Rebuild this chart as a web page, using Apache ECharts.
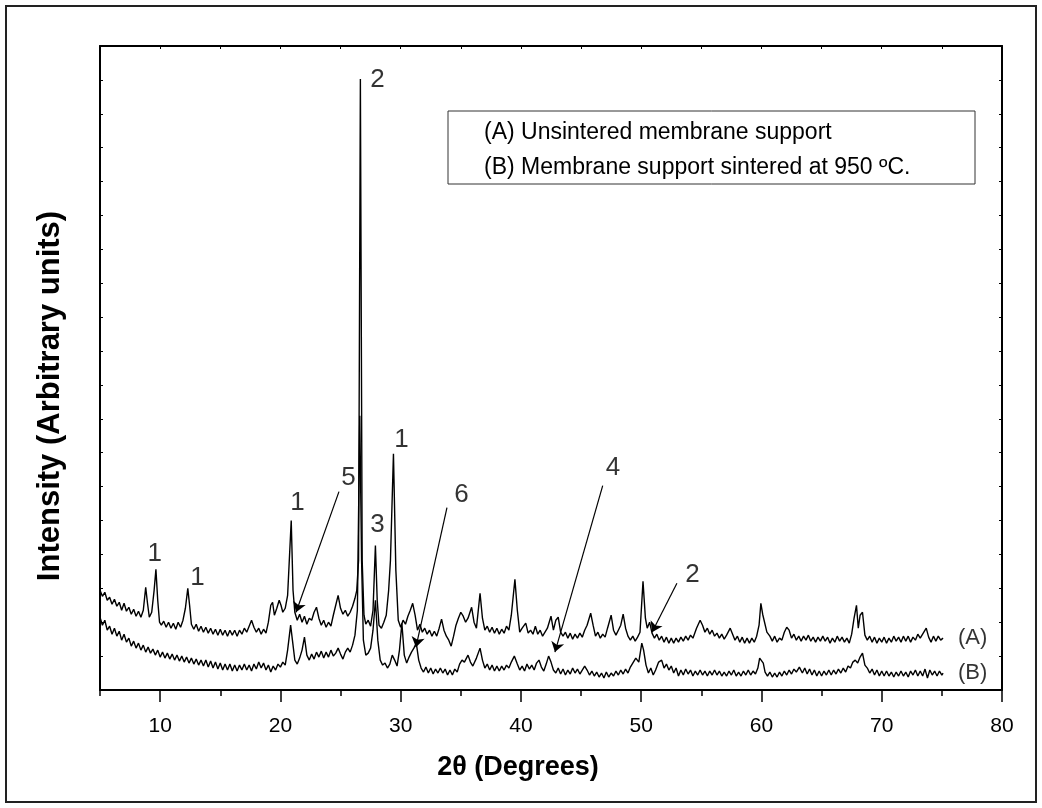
<!DOCTYPE html>
<html>
<head>
<meta charset="utf-8">
<script src="https://cdn.jsdelivr.net/npm/echarts@6/dist/echarts.min.js"></script>
<style>
html,body{margin:0;padding:0;background:#fff;}
#chart{width:1042px;height:808px;}
</style>
</head>
<body>
<div id="chart"></div>
<script>
// 2theta (degrees), intensity (arbitrary units) — trace (A) unsintered
const seriesA = [
[5.0,100],[5.2,94],[5.4,98],[5.6,90],[5.8,93],[6.0,86],[6.2,91],[6.4,84],[6.6,88],[6.8,80],[7.0,87],[7.2,79],[7.4,83],[7.6,76],[7.8,81],[8.0,74],[8.2,79],[8.4,73],[8.6,80],[8.8,103],[8.95,87],[9.1,73],[9.3,78],[9.5,100],[9.65,121],[9.8,90],[9.95,68],
[10.1,65],[10.3,69],[10.5,63],[10.7,68],[10.9,62],[11.1,67],[11.3,61],[11.5,68],[11.7,63],[11.9,70],[12.1,82],[12.3,102],[12.45,85],[12.6,66],[12.8,61],[13.0,66],[13.2,59],[13.4,64],[13.6,58],[13.8,63],[14.0,57],[14.2,62],[14.4,56],[14.6,61],[14.8,55],
[15.0,61],[15.2,55],[15.4,60],[15.6,54],[15.8,60],[16.0,55],[16.2,60],[16.4,54],[16.6,60],[16.8,56],[17.0,62],[17.2,58],[17.4,64],[17.6,70],[17.8,63],[18.0,58],[18.2,62],[18.4,56],[18.6,61],[18.8,57],[19.0,68],[19.2,85],[19.35,88],[19.5,75],[19.7,82],[19.9,90],
[20.05,85],[20.2,78],[20.4,82],[20.6,95],[20.9,170],[21.05,100],[21.2,78],[21.4,70],[21.6,76],[21.8,68],[22.0,74],[22.2,66],[22.4,72],[22.6,70],[22.8,78],[23.0,83],[23.2,72],[23.4,65],[23.6,70],[23.8,63],[24.0,68],[24.2,64],[24.4,75],[24.6,85],[24.8,95],
[25.0,82],[25.2,76],[25.4,80],[25.6,74],[25.8,78],[26.0,84],[26.2,92],[26.35,100],[26.5,130],[26.65,613],[26.8,130],[26.95,75],[27.1,66],[27.3,70],[27.5,64],[27.7,80],[27.9,145],[28.05,90],[28.2,65],[28.4,62],[28.6,68],[28.8,75],[29.0,100],[29.15,130],[29.4,237],[29.6,120],[29.8,70],
[30.0,63],[30.2,70],[30.4,66],[30.6,74],[30.8,80],[31.0,87],[31.2,75],[31.4,60],[31.6,66],[31.8,58],[32.0,62],[32.2,56],[32.4,60],[32.6,54],[32.8,59],[33.0,54],[33.2,62],[33.4,71],[33.6,60],[33.8,54],[34.0,50],[34.2,44],[34.4,54],[34.6,65],[34.8,72],
[35.0,78],[35.2,74],[35.4,68],[35.6,72],[35.9,83],[36.1,68],[36.3,62],[36.6,97],[36.8,72],[37.0,60],[37.2,64],[37.4,58],[37.6,63],[37.8,57],[38.0,62],[38.2,56],[38.4,61],[38.6,57],[38.8,64],[39.0,60],[39.2,75],[39.5,111],[39.7,80],[39.9,58],
[40.1,62],[40.4,67],[40.6,57],[40.8,60],[41.0,56],[41.2,64],[41.4,56],[41.6,60],[41.8,54],[42.0,58],[42.2,62],[42.5,74],[42.7,60],[42.9,70],[43.1,73],[43.3,58],[43.5,54],[43.7,58],[43.9,52],[44.1,57],[44.3,51],[44.5,56],[44.7,52],[44.9,57],
[45.1,53],[45.3,60],[45.5,65],[45.8,77],[46.0,65],[46.2,54],[46.4,58],[46.6,52],[46.8,56],[47.0,53],[47.2,62],[47.5,75],[47.7,60],[47.9,55],[48.1,60],[48.3,65],[48.5,76],[48.7,62],[48.9,54],[49.1,50],[49.3,54],[49.5,49],[49.7,53],[49.9,58],
[50.15,109],[50.35,72],[50.5,62],[50.7,68],[50.9,57],[51.1,52],[51.3,56],[51.5,50],[51.7,54],[51.9,48],[52.1,53],[52.3,47],[52.5,52],[52.7,47],[52.9,52],[53.1,48],[53.3,53],[53.5,49],[53.7,54],[53.9,50],[54.1,55],[54.3,52],[54.6,62],[54.9,70],
[55.1,65],[55.3,58],[55.5,62],[55.7,56],[55.9,60],[56.1,54],[56.3,57],[56.5,52],[56.7,56],[56.9,51],[57.1,55],[57.4,62],[57.6,56],[57.8,50],[58.0,54],[58.2,48],[58.4,53],[58.6,47],[58.8,52],[59.0,47],[59.2,52],[59.4,48],[59.6,54],[59.8,65],[59.95,87],
[60.1,76],[60.25,78],[60.45,58],[60.7,54],[60.9,49],[61.1,54],[61.3,48],[61.5,52],[61.7,50],[61.9,58],[62.1,63],[62.3,60],[62.5,52],[62.7,56],[62.9,50],[63.1,54],[63.3,49],[63.5,54],[63.7,50],[63.9,55],[64.1,49],[64.3,53],[64.5,48],[64.7,53],[64.9,49],
[65.1,54],[65.3,49],[65.5,53],[65.7,47],[65.9,52],[66.1,48],[66.3,54],[66.5,49],[66.7,53],[66.9,48],[67.1,52],[67.3,47],[67.5,56],[67.7,72],[67.9,85],[68.05,62],[68.2,75],[68.4,78],[68.6,55],[68.8,50],[69.0,54],[69.2,48],[69.4,53],[69.6,47],[69.8,52],
[70.0,48],[70.2,53],[70.4,47],[70.6,52],[70.8,48],[71.0,54],[71.2,49],[71.4,53],[71.6,48],[71.8,54],[72.0,49],[72.2,54],[72.4,48],[72.6,53],[72.8,50],[73.0,56],[73.2,52],[73.5,58],[73.7,62],[73.9,53],[74.1,48],[74.3,54],[74.5,49],[74.7,54],[74.9,50],[75.1,52]
];
// trace (B) sintered at 950 ºC
const seriesB = [
[5.0,73],[5.2,65],[5.4,70],[5.6,60],[5.8,64],[6.0,56],[6.2,62],[6.4,54],[6.6,59],[6.8,50],[7.0,56],[7.2,48],[7.4,52],[7.6,44],[7.8,49],[8.0,42],[8.2,47],[8.4,40],[8.6,45],[8.8,38],[9.0,43],[9.2,37],[9.4,41],[9.6,35],[9.8,40],
[10.0,33],[10.2,38],[10.4,32],[10.6,37],[10.8,31],[11.0,36],[11.2,30],[11.4,35],[11.6,29],[11.8,34],[12.0,28],[12.2,33],[12.4,27],[12.6,32],[12.8,26],[13.0,31],[13.2,25],[13.4,30],[13.6,24],[13.8,30],[14.0,23],[14.2,29],[14.4,22],[14.6,28],[14.8,21],
[15.0,27],[15.2,20],[15.4,26],[15.6,20],[15.8,26],[16.0,19],[16.2,25],[16.4,19],[16.6,25],[16.8,20],[17.0,26],[17.2,20],[17.4,25],[17.6,19],[17.8,26],[18.0,21],[18.2,28],[18.4,22],[18.6,27],[18.8,20],[19.0,25],[19.2,18],[19.4,24],[19.6,20],[19.8,26],
[20.0,23],[20.2,28],[20.4,25],[20.6,40],[20.85,65],[21.0,50],[21.2,30],[21.4,26],[21.6,32],[21.8,40],[22.0,53],[22.2,35],[22.4,30],[22.6,36],[22.8,31],[23.0,38],[23.2,33],[23.4,39],[23.6,32],[23.8,38],[24.0,33],[24.2,40],[24.4,34],[24.6,37],[24.8,42],
[25.0,36],[25.2,31],[25.4,38],[25.6,42],[25.8,38],[26.0,45],[26.2,55],[26.4,80],[26.6,275],[26.75,130],[26.9,50],[27.1,35],[27.3,37],[27.5,42],[27.7,60],[27.9,90],[28.1,50],[28.3,30],[28.5,25],[28.7,27],[28.9,22],[29.1,26],[29.3,35],[29.5,30],[29.7,24],[29.9,40],
[30.1,67],[30.3,35],[30.5,27],[30.7,33],[30.9,38],[31.1,42],[31.3,47],[31.5,30],[31.7,22],[31.9,18],[32.1,23],[32.3,17],[32.5,22],[32.7,16],[32.9,21],[33.1,17],[33.3,22],[33.5,17],[33.7,21],[33.9,15],[34.1,20],[34.3,15],[34.5,21],[34.7,18],[34.9,26],
[35.1,30],[35.3,28],[35.6,35],[35.8,28],[36.0,24],[36.3,32],[36.6,42],[36.8,30],[37.0,22],[37.2,26],[37.4,20],[37.6,25],[37.8,19],[38.0,24],[38.2,19],[38.4,24],[38.6,20],[38.8,25],[39.0,22],[39.2,28],[39.45,34],[39.7,26],[39.9,20],
[40.1,24],[40.3,19],[40.5,26],[40.7,21],[40.9,25],[41.1,20],[41.3,27],[41.5,30],[41.7,23],[41.9,19],[42.1,26],[42.3,34],[42.5,28],[42.7,20],[42.9,17],[43.1,22],[43.3,16],[43.5,21],[43.7,15],[43.9,20],[44.1,16],[44.3,22],[44.5,17],[44.7,21],[44.9,16],
[45.1,20],[45.3,24],[45.5,20],[45.7,15],[45.9,19],[46.1,14],[46.3,18],[46.5,13],[46.7,17],[46.9,12],[47.1,18],[47.3,13],[47.5,17],[47.7,14],[47.9,19],[48.1,15],[48.3,20],[48.5,16],[48.7,21],[48.9,17],[49.1,23],[49.3,27],[49.55,32],[49.8,28],
[50.05,47],[50.2,40],[50.4,25],[50.6,17],[50.8,22],[51.0,15],[51.2,20],[51.45,28],[51.7,30],[51.9,22],[52.1,26],[52.3,20],[52.5,24],[52.7,17],[52.9,22],[53.1,14],[53.3,20],[53.5,15],[53.7,21],[53.9,16],[54.1,20],[54.3,14],[54.5,19],[54.7,15],[54.9,20],
[55.1,15],[55.3,19],[55.5,14],[55.7,19],[55.9,15],[56.1,20],[56.3,15],[56.5,19],[56.7,14],[56.9,18],[57.1,14],[57.3,19],[57.5,15],[57.7,20],[57.9,14],[58.1,18],[58.3,14],[58.5,19],[58.7,15],[58.9,20],[59.1,15],[59.3,19],[59.5,16],[59.7,22],[59.85,32],
[60.0,30],[60.15,27],[60.3,18],[60.5,14],[60.7,18],[60.9,13],[61.1,17],[61.3,13],[61.5,18],[61.7,14],[61.9,19],[62.1,15],[62.3,20],[62.5,16],[62.7,21],[62.9,18],[63.15,23],[63.4,17],[63.6,22],[63.8,16],[64.0,21],[64.2,15],[64.4,20],[64.6,14],[64.8,19],
[65.0,14],[65.2,19],[65.4,15],[65.6,20],[65.8,15],[66.0,20],[66.2,16],[66.4,21],[66.6,17],[66.8,22],[67.0,18],[67.2,24],[67.4,22],[67.6,28],[67.8,30],[68.0,27],[68.2,33],[68.4,37],[68.6,25],[68.8,22],[69.0,17],[69.2,21],[69.4,15],[69.6,20],[69.8,14],
[70.0,19],[70.2,14],[70.4,19],[70.6,14],[70.8,18],[71.0,13],[71.2,18],[71.4,14],[71.6,19],[71.8,14],[72.0,18],[72.2,13],[72.4,19],[72.6,15],[72.8,20],[73.0,14],[73.2,19],[73.4,14],[73.6,21],[73.8,12],[74.0,20],[74.2,15],[74.4,19],[74.6,14],[74.8,19],[75.0,15],[75.1,17]
];
// peak labels: [text, 2theta, intensity]
const peakLabels = [
['1',9.6,136],['1',13.15,112],['1',21.46,187],['5',25.7,212],['2',28.11,612],['3',28.11,165],['1',30.11,250],['6',35.1,195],['4',47.7,222],['2',54.31,115]
];
// trace tags at the right end
const traceTags = [['(A)',77.6,52],['(B)',77.6,17]];
// arrows: [from 2theta, from intensity, to 2theta, to intensity]
const arrows = [
[24.87,199,21.30,78],
[33.85,183,31.27,43],
[46.8,205,42.83,38],
[52.97,107,50.90,58]
];
const xTickLabels = [10,20,30,40,50,60,70,80];
const legendLines = ['(A) Unsintered membrane support','(B) Membrane support sintered at 950 ºC.'];

const FONT = '"Liberation Sans", Arial, Helvetica, sans-serif';
const chart = echarts.init(document.getElementById('chart'), null, {renderer:'canvas'});

const lineCommon = {type:'line', showSymbol:false, symbol:'none', silent:true, animation:false,
  lineStyle:{color:'#000', width:1.4}, clip:true};

const option = {
  animation:false,
  backgroundColor:'#fff',
  grid:{left:100, right:40, top:46, bottom:118, containLabel:false},
  xAxis:[
    {type:'value', min:5, max:80, interval:5, position:'bottom',
     axisLine:{show:true, lineStyle:{color:'#000', width:2}},
     axisTick:{show:true, inside:false, length:6, lineStyle:{color:'#000', width:1.5}},
     axisLabel:{show:true, margin:26, fontSize:21, color:'#000', fontFamily:FONT,
       formatter:function(v){return xTickLabels.indexOf(v)>=0 ? String(v) : '';}},
     splitLine:{show:false}},
    {type:'value', min:5, max:80, position:'bottom',
     axisLine:{show:false},
     axisTick:{show:true, inside:false, length:12, customValues:xTickLabels, lineStyle:{color:'#000', width:1.5}},
     axisLabel:{show:false}, splitLine:{show:false}},
    {type:'value', min:5, max:80, interval:5, position:'top',
     axisLine:{show:true, lineStyle:{color:'#000', width:2}},
     axisTick:{show:true, inside:true, length:3, lineStyle:{color:'#000', width:1}},
     axisLabel:{show:false}, splitLine:{show:false}}
  ],
  yAxis:[
    {type:'value', min:0, max:646, interval:34, position:'left',
     axisLine:{show:true, lineStyle:{color:'#000', width:2}},
     axisTick:{show:true, inside:true, length:3, lineStyle:{color:'#000', width:1}},
     axisLabel:{show:false}, splitLine:{show:false}},
    {type:'value', min:0, max:646, interval:34, position:'right',
     axisLine:{show:true, lineStyle:{color:'#000', width:2}},
     axisTick:{show:true, inside:true, length:3, lineStyle:{color:'#000', width:1}},
     axisLabel:{show:false}, splitLine:{show:false}}
  ],
  series:[
    Object.assign({}, lineCommon, {name:'A', data:seriesA}),
    Object.assign({}, lineCommon, {name:'B', data:seriesB,
      markLine:{silent:true, animation:false, symbol:['none','arrow'], symbolSize:10,
        lineStyle:{color:'#000', width:1.2, type:'solid'}, itemStyle:{color:'#000'}, label:{show:false},
        emphasis:{disabled:true},
        data: arrows.map(a=>[{coord:[a[0],a[1]]},{coord:[a[2],a[3]]}])}}),
    {type:'scatter', silent:true, animation:false, symbolSize:1,
     itemStyle:{color:'rgba(0,0,0,0)'},
     label:{show:true, position:[0,0], align:'center', verticalAlign:'middle',
       fontSize:26, color:'#000', fontFamily:FONT, formatter:p=>p.data.value[2]},
     data: peakLabels.map(l=>({value:[l[1],l[2],l[0]]}))},
    {type:'scatter', silent:true, animation:false, symbolSize:1,
     itemStyle:{color:'rgba(0,0,0,0)'},
     label:{show:true, position:[0,0], align:'center', verticalAlign:'middle',
       fontSize:22, color:'#000', fontFamily:FONT, formatter:p=>p.data.value[2]},
     data: traceTags.map(l=>({value:[l[1],l[2],l[0]]}))}
  ],
  graphic:[
    {type:'rect', silent:true, z:-1, shape:{x:6,y:6,width:1030,height:796},
     style:{fill:'none', stroke:'#222', lineWidth:2}},
    {type:'rect', silent:true, shape:{x:448,y:111,width:527,height:73},
     style:{fill:'#fff', stroke:'#333', lineWidth:1}},
    {type:'text', silent:true, x:484, y:133,
     style:{text:legendLines[0], fontSize:23, fontFamily:FONT, fill:'#000', verticalAlign:'middle'}},
    {type:'text', silent:true, x:484, y:168,
     style:{text:legendLines[1], fontSize:23, fontFamily:FONT, fill:'#000', verticalAlign:'middle'}},
    {type:'text', silent:true, x:518, y:768,
     style:{text:'2θ (Degrees)', fontSize:27, fontWeight:'bold', fontFamily:FONT, fill:'#000', align:'center', verticalAlign:'middle'}},
    {type:'text', silent:true, x:50, y:396, rotation:Math.PI/2,
     style:{text:'Intensity (Arbitrary units)', fontSize:31, fontWeight:'bold', fontFamily:FONT, fill:'#000', align:'center', verticalAlign:'middle'}}
  ]
};
chart.setOption(option);
</script>
</body>
</html>
